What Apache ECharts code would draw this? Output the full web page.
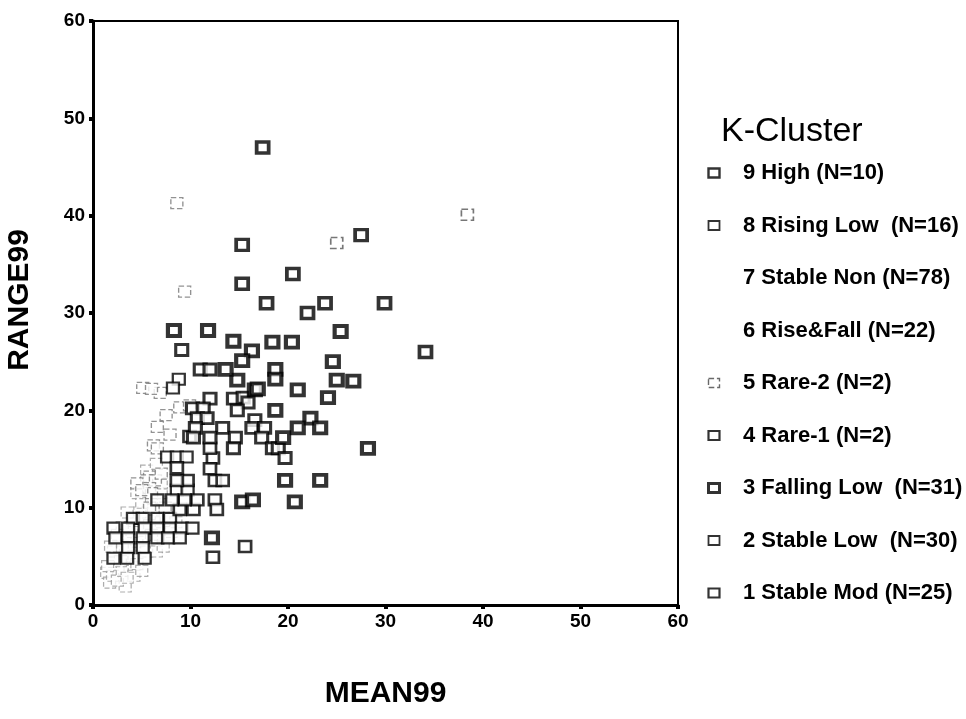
<!DOCTYPE html>
<html>
<head>
<meta charset="utf-8">
<script src="https://cdn.jsdelivr.net/npm/echarts@6/dist/echarts.min.js"></script>
<style>
html,body{margin:0;padding:0;background:#fff;}
#chart{width:966px;height:719px;}
</style>
</head>
<body>
<div id="chart"></div>
<script>
// ---- data ----
var seriesNames = [
  "9 High (N=10)", "8 Rising Low  (N=16)", "7 Stable Non (N=78)", "6 Rise&Fall (N=22)",
  "5 Rare-2 (N=2)", "4 Rare-1 (N=2)", "3 Falling Low  (N=31)", "2 Stable Low  (N=30)", "1 Stable Mod (N=25)"
];
var xTicks = [0, 10, 20, 30, 40, 50, 60];
var yTicks = [0, 10, 20, 30, 40, 50, 60];

var high = [[17.4,47],[15.3,37],[27.5,38],[20.5,34],[15.3,33],[29.9,31],[23.8,31],[22.0,30],[17.8,31],[34.1,26]];
var risingLow = [[12.3,15.1],[12,14],[12.5,12.8],[13.3,12.8],[12.5,10.8],[12.7,9.8],[10.3,9.8],[8.9,9.8],[10.7,10.8],[9.4,10.8],[8.1,10.8],[9.7,12.8],[8.6,12.8],[8.6,14.1],[12,16.1],[9.9,17.3]];
var stableNon = [[1.4,3.3],[1.7,2.3],[3.3,1.9],[3.8,3.9],[2.0,3.0],[1.5,4.0],[2.5,2.5],[3.0,3.5],[2.1,5.5],[3.0,6.0],[4.2,5.0],[4.5,6.5],[4.0,7.5],[5.8,8.2],[6.0,7.2],[7.0,8.5],[4.8,9.5],[6.2,9.8],[7.5,9.0],[3.0,8.0],[2.5,7.2],[4.5,4.2],[5.5,5.5],[6.5,5.5],[7.2,6.0],[8.0,7.5],[8.5,8.5],[5.0,10.5],[6.0,11.0],[7.0,11.5],[4.5,11.5],[5.5,13.8],[6.5,14.5],[7.0,12.5],[3.5,9.5],[2.8,4.5],[1.8,6.0],[4.2,3.0],[5.0,3.5],[3.5,2.8]];
var riseFall = [[8.6,41.3],[9.4,32.2],[5.1,22.3],[6.9,21.8],[8.9,20.3],[6.6,18.3],[7.9,17.5],[6.2,16.4],[6.6,16.1],[5.8,13.2],[5.5,12.8],[6.4,12.8],[5.8,12],[5.8,10],[7.4,10],[4.5,12.5],[6.0,11.5],[7.0,13.5],[5.0,11.8],[9.9,20.5],[7.5,19.5],[6.0,22.2]];
var rare2 = [[25,37.2],[38.4,40.1]];
var rare1 = [[15.6,6],[12.3,4.9]];
var fallingLow = [[8.3,28.2],[11.8,28.2],[14.4,27.1],[18.4,27],[20.4,27],[25.4,28.1],[16.3,26.1],[15.3,25.1],[24.6,25],[25,23.1],[26.7,23],[24.1,21.3],[21,22.1],[18.7,24.2],[18.7,23.2],[14.8,23.1],[13.6,24.2],[16.6,22.1],[16.9,22.2],[18.7,20],[22.3,19.2],[23.3,18.2],[21,18.2],[19.5,17.2],[28.2,16.1],[19.7,12.8],[23.3,12.8],[20.7,10.6],[15.3,10.6],[16.4,10.8],[12.2,6.9]];
var stableLow = [[7.6,15.2],[8.6,15.2],[9.6,15.2],[8.8,23.2],[8.6,11.8],[9.7,11.8],[6.6,10.8],[4.1,8.9],[5.1,8.9],[6.6,8.9],[7.9,8.9],[2.1,7.9],[3.6,7.9],[5.3,7.9],[6.6,7.9],[7.9,7.9],[9.1,7.9],[10.2,7.9],[2.3,6.9],[3.6,6.9],[5.1,6.9],[6.6,6.9],[7.7,6.9],[8.9,6.9],[3.6,5.9],[5.1,5.9],[2.1,4.8],[3.5,4.8],[5.3,4.8],[8.2,22.3]];
var stableMod = [[11,24.2],[12,24.2],[9.1,26.2],[12,21.2],[14.4,21.2],[15.4,21.3],[15.9,20.8],[14.8,20],[16.6,19],[10.2,20.2],[11.3,20.2],[10.7,19.2],[11.7,19.2],[10.5,18.2],[13.3,18.2],[16.3,18.2],[17.6,18.2],[10.3,17.2],[12,17.2],[14.6,17.2],[17.3,17.2],[14.4,16.1],[18.4,16.1],[19,16.1],[19.7,15.1]];

// ---- styles ----
var seriesData = [high, risingLow, stableNon, riseFall, rare2, rare1, fallingLow, stableLow, stableMod];
var styles = [
  {borderColor:'#000', borderWidth:3.6, borderType:'solid'},
  {borderColor:'#000', borderWidth:2.6, borderType:'solid'},
  {borderColor:'#999', borderWidth:1.2, borderType:'dashed'},
  {borderColor:'#777', borderWidth:1.3, borderType:'dashed'},
  {borderColor:'#555', borderWidth:1.6, borderType:'dashed'},
  {borderColor:'#000', borderWidth:2.6, borderType:'solid'},
  {borderColor:'#000', borderWidth:4, borderType:'solid'},
  {borderColor:'#000', borderWidth:2.2, borderType:'solid'},
  {borderColor:'#000', borderWidth:3, borderType:'solid'}
];
var legendStyles = [
  {borderColor:'#000', borderWidth:2.4},
  {borderColor:'#000', borderWidth:1.8},
  {borderColor:'rgba(0,0,0,0)', borderWidth:0, color:'rgba(0,0,0,0)'},
  {borderColor:'rgba(0,0,0,0)', borderWidth:0, color:'rgba(0,0,0,0)'},
  {borderColor:'#444', borderWidth:1.4, borderType:'dashed'},
  {borderColor:'#000', borderWidth:2.2},
  {borderColor:'#000', borderWidth:3},
  {borderColor:'#000', borderWidth:1.8},
  {borderColor:'#000', borderWidth:2.2}
];
var drawOrder = [2, 3, 7, 1, 8, 5, 4, 6, 0];

var FONT = 'Liberation Sans, Arial, sans-serif';
var chart = echarts.init(document.getElementById('chart'), null, {renderer:'canvas'});

var series = drawOrder.map(function(i){
  return {
    name: seriesNames[i],
    type: 'scatter',
    symbol: 'rect',
    symbolSize: [12, 11],
    data: seriesData[i],
    itemStyle: Object.assign({color:'#fff'}, styles[i]),
    emphasis: {disabled:true},
    animation: false
  };
});

var ICON = 'path://M0,0h11v9h-11z';

var option = {
  backgroundColor: '#fff',
  animation: false,
  title: {
    text: 'K-Cluster',
    left: 716, top: 110,
    textStyle: {fontFamily: FONT, fontSize: 34, fontWeight: 'normal', color:'#000'}
  },
  legend: {
    orient: 'vertical',
    left: 702, top: 157,
    itemWidth: 48, itemHeight: 9,
    itemGap: 30.5,
    symbolKeepAspect: true,
    selectedMode: false,
    textStyle: {fontFamily: FONT, fontSize: 22, fontWeight: 'bold', color:'#000', lineHeight: 22},
    data: seriesNames.map(function(n, i){
      return {name: n, icon: ICON, itemStyle: Object.assign({color:'#fff'}, legendStyles[i])};
    })
  },
  grid: {
    left: 93, right: 288, top: 21, bottom: 114,
    containLabel: false,
    outerBoundsMode: 'none',
    show: true, borderColor: '#000', borderWidth: 2, backgroundColor: '#fff'
  },
  xAxis: {
    type: 'value', min: xTicks[0], max: xTicks[xTicks.length-1], interval: 10,
    name: 'MEAN99', nameLocation: 'middle', nameGap: 74,
    nameTextStyle: {fontFamily: FONT, fontSize: 30, fontWeight: 'bold', color:'#000'},
    axisLine: {show:true, lineStyle:{color:'#000', width:3}},
    axisTick: {show:true, length:4, lineStyle:{color:'#000', width:4}},
    axisLabel: {fontFamily: FONT, fontSize: 19, fontWeight: 'bold', color:'#000', margin: 7,
      formatter: function(v){ return xTicks.indexOf(v) >= 0 ? String(v) : ''; }},
    splitLine: {show:false}
  },
  yAxis: {
    type: 'value', min: yTicks[0], max: yTicks[yTicks.length-1], interval: 10,
    name: 'RANGE99', nameLocation: 'middle', nameGap: 58,
    nameTextStyle: {fontFamily: FONT, fontSize: 30, fontWeight: 'bold', color:'#000', padding:[0,0,0,26]},
    axisLine: {show:true, lineStyle:{color:'#000', width:3}},
    axisTick: {show:true, length:4, lineStyle:{color:'#000', width:4}},
    axisLabel: {fontFamily: FONT, fontSize: 19, fontWeight: 'bold', color:'#000', margin: 8,
      formatter: function(v){ return yTicks.indexOf(v) >= 0 ? String(v) : ''; }},
    splitLine: {show:false}
  },
  series: series
};
chart.setOption(option);
</script>
</body>
</html>
